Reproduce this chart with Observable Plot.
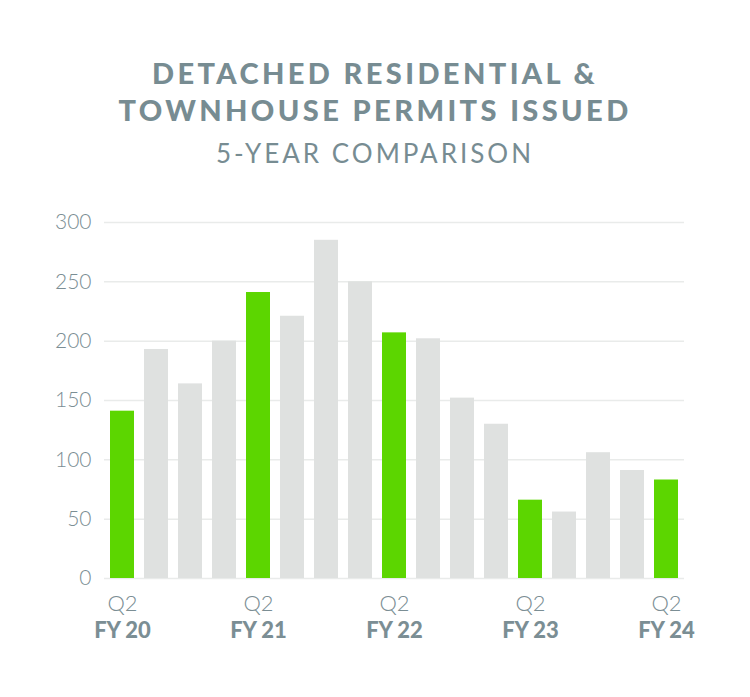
<!DOCTYPE html>
<html>
<head>
<meta charset="utf-8">
<script src="https://cdn.jsdelivr.net/npm/d3@7"></script>
<script src="https://cdn.jsdelivr.net/npm/@observablehq/plot@0.6"></script>
<style>
  html, body { margin: 0; padding: 0; background: #ffffff; }
  #wrap { position: relative; width: 750px; height: 697px; overflow: hidden; font-family: Lato, "Open Sans", sans-serif; }
  #head { position: absolute; left: 0; top: 0; width: 750px; height: 190px; text-align: center; color: #778c92; }
  #title { position: absolute; left: 0; top: 54px; width: 750px; margin: 0; font-size: 29px; line-height: 37px; font-weight: 900; letter-spacing: 3.4px; }
  #subtitle { position: absolute; left: 0; top: 138px; width: 750px; margin: 0; font-size: 26px; line-height: 30px; font-weight: 400; letter-spacing: 3px; }
  #chart { position: absolute; left: 0; top: 190px; }
</style>
</head>
<body>
<div id="wrap">
  <div id="head">
    <div id="title">DETACHED RESIDENTIAL &amp;<br>TOWNHOUSE PERMITS ISSUED</div>
    <div id="subtitle">5-YEAR COMPARISON</div>
  </div>
  <div id="chart"></div>
</div>
<script>
const quarters = [
  "FY20 Q2","FY20 Q3","FY20 Q4","FY21 Q1","FY21 Q2","FY21 Q3","FY21 Q4","FY22 Q1",
  "FY22 Q2","FY22 Q3","FY22 Q4","FY23 Q1","FY23 Q2","FY23 Q3","FY23 Q4","FY24 Q1","FY24 Q2"
];
const permits = [141, 193, 164, 200, 241, 221, 285, 250, 207, 202, 152, 130, 66, 56, 106, 91, 83];
const highlighted = ["FY20 Q2","FY21 Q2","FY22 Q2","FY23 Q2","FY24 Q2"];
const quarterLabels = ["Q2","Q2","Q2","Q2","Q2"];
const yearLabels = ["FY 20","FY 21","FY 22","FY 23","FY 24"];
const yTicks = [0, 50, 100, 150, 200, 250, 300];

const data = quarters.map((q, i) => ({quarter: q, value: permits[i], hi: highlighted.includes(q)}));
const labels = highlighted.map((q, i) => ({quarter: q, ql: quarterLabels[i], yl: yearLabels[i]}));

const textColor = "#7b8e94";

const chart = Plot.plot({
  width: 750,
  height: 507,
  marginTop: 32,
  marginBottom: 119,
  marginLeft: 104,
  marginRight: 66,
  style: {fontFamily: "Lato, 'Open Sans', sans-serif", background: "transparent"},
  x: {domain: quarters, paddingInner: 0.29, paddingOuter: 0.14, axis: null},
  y: {domain: [0, 300], ticks: yTicks, tickSize: 0, tickPadding: 13, label: null},
  marks: [
    Plot.ruleY(yTicks, {stroke: "#e9ebea", strokeWidth: 1.5}),
    Plot.barY(data, {x: "quarter", y: "value", fill: d => d.hi ? "#5cd600" : "#dfe1e0"}),
    Plot.axisY({ticks: yTicks, tickSize: 0, tickPadding: 13, fontSize: 21, fill: textColor, fontWeight: 300, label: null}),
    Plot.text(labels, {x: "quarter", y: () => 0, text: "ql", dy: 25, fontSize: 22, fill: textColor, fontWeight: 300}),
    Plot.text(labels, {x: "quarter", y: () => 0, text: "yl", dy: 52, fontSize: 22, fill: textColor, fontWeight: 900})
  ]
});
document.getElementById("chart").appendChild(chart);
</script>
</body>
</html>
